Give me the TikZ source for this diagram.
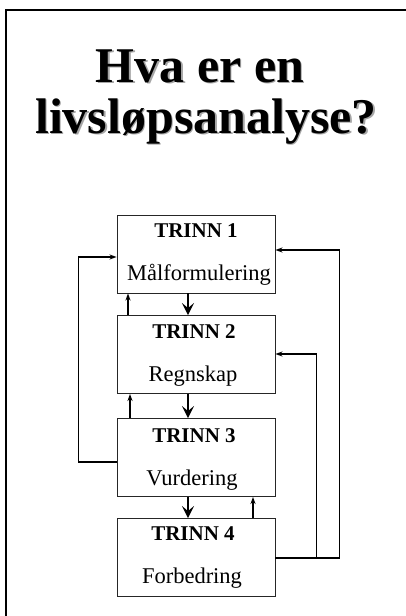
\documentclass[tikz,border=0pt]{standalone}
\usepackage{fontspec}
\setmainfont{Liberation Serif}
\usetikzlibrary{arrows.meta}
\tikzset{
  stepbox/.style={draw=black!85, line width=0.9pt, minimum width=158pt, minimum height=78pt, inner sep=0pt},
  headtxt/.style={anchor=base, font=\fontsize{21}{21}\selectfont\bfseries, inner sep=0pt},
  labtxt/.style={anchor=base, font=\fontsize{22.5}{22.5}\selectfont, inner sep=0pt},
  titletxt/.style={anchor=base, font=\fontsize{50}{50}\selectfont\bfseries, inner sep=0pt},
  shadowtxt/.style={titletxt, text=black!35},
  downarrow/.style={line width=2.2pt, -{Stealth[length=12pt,width=12pt,inset=5pt]}},
  thinarrow/.style={line width=1.1pt, -{Stealth[length=7pt,width=5pt]}},
  loopline/.style={line width=1.2pt, -{Stealth[length=7pt,width=5pt]}},
}
\begin{document}
\begin{tikzpicture}[x=1pt,y=-1pt]
\useasboundingbox (0,0) rectangle (406,616);
% frame
\draw[line width=1.6pt] (6,620) -- (6,10) -- (410,10);
% title
\node[shadowtxt] (t1s) at (201.5,83.5) {Hva er en};
\node[titletxt] (t1) at (200,82) {Hva er en};
\node[shadowtxt] (t2s) at (207.5,134.5) {livsløpsanalyse?};
\node[titletxt] (t2) at (206,133) {livsløpsanalyse?};
% boxes
\node[stepbox] (b1) at (196,254) {};
\node[stepbox] (b2) at (196,354.5) {};
\node[stepbox] (b3) at (196,457.5) {};
\node[stepbox] (b4) at (196,557.5) {};
% texts
\node[headtxt] (h1) at (196,237) {TRINN 1};
\node[labtxt] (l1) at (199,280) {Målformulering};
\node[headtxt] (h2) at (194,338) {TRINN 2};
\node[labtxt] (l2) at (193,381) {Regnskap};
\node[headtxt] (h3) at (194,442) {TRINN 3};
\node[labtxt] (l3) at (192,485) {Vurdering};
\node[headtxt] (h4) at (193,540) {TRINN 4};
\node[labtxt] (l4) at (192,583) {Forbedring};
% vertical arrow positions
\coordinate (dx) at (188,0);
\coordinate (u1) at (128,0);
\coordinate (u2) at (130,0);
\coordinate (u3) at (253,0);
% down arrows
\draw[downarrow] (b1.south -| dx) -- (b2.north -| dx);
\draw[downarrow] (b2.south -| dx) -- (b3.north -| dx);
\draw[downarrow] (b3.south -| dx) -- (b4.north -| dx);
% up arrows
\draw[thinarrow] (b2.north -| u1) -- (b1.south -| u1);
\draw[thinarrow] (b3.north -| u2) -- (b2.south -| u2);
\draw[thinarrow] (b4.north -| u3) -- (b3.south -| u3);
% left loop
\draw[loopline] ([yshift=-4.5pt]b3.west) -- ++(-38pt,0) |- ([yshift=-3pt]b1.west);
% right loops
\draw[loopline] ([yshift=-0.5pt]b4.east) -- ++(64pt,0) |- ([yshift=4pt]b1.east);
\draw[loopline] ([yshift=-0.5pt]b4.east) -- ++(41pt,0) |- ([yshift=0.5pt]b2.east);
\end{tikzpicture}
\end{document}
